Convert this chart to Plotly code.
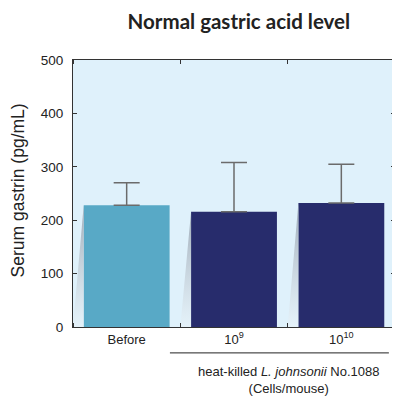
import plotly.graph_objects as go

categories = ["Before", "10<sup>9</sup>", "10<sup>10</sup>"]
means = [228, 216, 232]
errors = [42, 92, 73]
bar_colors = ["#58a9c6", "#272c6c", "#272c6c"]

positions = list(range(len(categories)))
bar_width = 0.8

fig = go.Figure()

# soft shadow wedges at the left of each bar (derived from bar values)
for pos, val in zip(positions, means):
    left = pos - bar_width / 2
    fig.add_trace(go.Scatter(
        x=[left, left, left - 0.1, left], y=[val, 0, 0, val],
        mode="lines", line=dict(width=0), fill="toself",
        fillgradient=dict(type="vertical", start=0, stop=val,
                          colorscale=[[0, "rgba(232,242,248,0.6)"], [1, "rgba(150,162,175,0.9)"]]),
        hoverinfo="skip", showlegend=False,
    ))

fig.add_trace(go.Bar(
    x=positions, y=means,
    marker=dict(color=bar_colors, line=dict(width=0)),
    error_y=dict(type="data", array=errors, symmetric=False, arrayminus=[0, 0, 0],
                 color="#6b6b6b", thickness=1.5, width=13),
    width=bar_width,
))

fig.update_layout(
    width=392, height=392,
    margin=dict(l=65, r=5, t=52, b=73),
    paper_bgcolor="white",
    plot_bgcolor="#dff1fb",
    showlegend=False,
    font=dict(family="Liberation Sans, Arial", size=13, color="#222222"),
    title=dict(text="<b>Normal gastric acid level</b>", x=0.589, xanchor="center",
               y=0.965, yanchor="middle",
               font=dict(family="Lato", size=20.5, color="#222222")),
)
fig.update_yaxes(range=[0, 500], tickvals=[0, 100, 200, 300, 400, 500],
                 ticks="inside", ticklen=4, tickcolor="#333333", ticklabelstandoff=6,
                 showline=True, linecolor="#333333", linewidth=1.2, mirror="ticks",
                 showgrid=False, zeroline=False, tickfont=dict(size=13.5))
fig.update_xaxes(range=[-0.5, 2.5], tickvals=positions, ticktext=categories, ticks="",
                 minor=dict(ticks="inside", ticklen=4, tick0=0.5, dtick=1, tickcolor="#333333",
                            showgrid=False),
                 showline=True, linecolor="#333333", linewidth=1.2,
                 mirror="ticks", showgrid=False, zeroline=False, tickfont=dict(size=13))

fig.add_annotation(text="Serum gastrin (pg/mL)", textangle=-90, x=-0.172, y=0.51,
                   xref="paper", yref="paper", xanchor="center", yanchor="middle",
                   showarrow=False, font=dict(size=17.5))
fig.add_shape(type="line", xref="paper", yref="paper", x0=0.301, x1=0.981, y0=-0.097, y1=-0.097,
              line=dict(color="#222222", width=1))
fig.add_annotation(text="heat-killed <i>L. johnsonii</i> No.1088<br>(Cells/mouse)",
                   x=0.668, y=-0.197, xref="paper", yref="paper",
                   xanchor="center", yanchor="middle",
                   showarrow=False, font=dict(size=13))

fig.write_html("out.html")
